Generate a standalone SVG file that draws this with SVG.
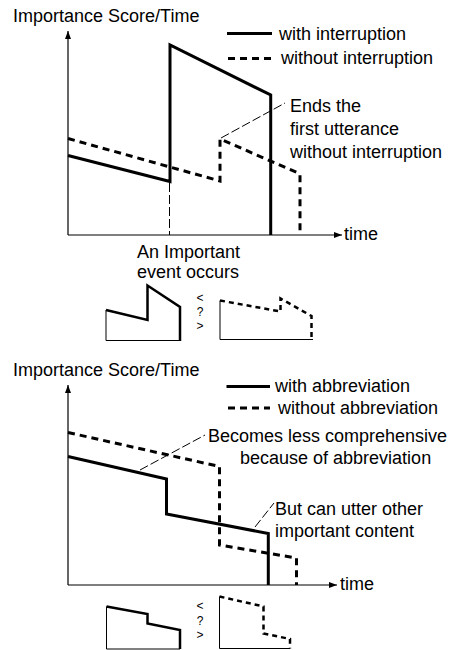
<svg xmlns="http://www.w3.org/2000/svg" width="458" height="650" viewBox="0 0 458 650">
<style>
text{font-family:"Liberation Sans",Arial,sans-serif;font-size:18px;fill:#000}
.sym{font-size:12px;text-anchor:middle}
.axis{stroke:#000;stroke-width:1.2;fill:none}
.solid{stroke:#000;stroke-width:3;fill:none;stroke-linejoin:miter}
.dash{stroke:#000;stroke-width:3;fill:none;stroke-dasharray:7 5}
.lead{stroke:#000;stroke-width:1;fill:none;stroke-dasharray:9 3}
.thin{stroke:#000;stroke-width:1;fill:none}
.isolid{stroke:#000;stroke-width:2.5;fill:none}
.idash{stroke:#000;stroke-width:2.5;fill:none;stroke-dasharray:5 4}
</style>
<defs>
<marker id="ah" viewBox="0 0 8 6" refX="8" refY="3" markerWidth="8" markerHeight="6" markerUnits="userSpaceOnUse" orient="auto">
<path d="M0,0 L8,3 L0,6 z" fill="#000"/>
</marker>
</defs>

<g id="chart1">
<text x="13" y="22">Importance Score/Time</text>
<line class="axis" x1="68" y1="235" x2="68" y2="31" marker-end="url(#ah)"/>
<line class="axis" x1="68" y1="235" x2="342" y2="235" marker-end="url(#ah)"/>
<text x="344" y="240">time</text>
<g id="legend1">
<line class="solid" x1="227" y1="33.5" x2="272" y2="33.5"/>
<text x="279" y="40">with interruption</text>
<line class="dash" x1="228" y1="58.5" x2="272" y2="58.5"/>
<text x="281" y="64">without interruption</text>
</g>
<g id="curves1">
<polyline class="solid" points="68,155.5 170,181.5 170,45 270.7,95 270.7,235"/>
<polyline class="dash" points="68,138.5 220,181 220,139 297,172.5 300,175 300,235"/>
<line class="lead" x1="169.5" y1="183" x2="169.5" y2="235"/>
</g>
<g id="note1">
<line class="lead" x1="221" y1="138" x2="285" y2="103"/>
<text x="290" y="112">Ends the</text>
<text x="290" y="135">first utterance</text>
<text x="290" y="157.5">without interruption</text>
</g>
<g id="event">
<text x="137" y="258">An Important</text>
<text x="137" y="278">event occurs</text>
</g>
<g id="icons1">
<polyline class="thin" points="106,310 106,340.5 180,340.5"/>
<polyline class="isolid" points="106,310 147.5,320 147.5,285.5 180,307 180,341"/>
<text class="sym" x="200" y="301.5">&lt;</text>
<text class="sym" x="200" y="315.5">?</text>
<text class="sym" x="200" y="329.5">&gt;</text>
<polyline class="thin" points="220,300.5 220,339.5 313,339.5"/>
<polyline class="idash" points="220,300.5 280.5,311.5 280.5,298.5 311.5,316 311.5,339.5"/>
</g>
</g>

<g id="chart2">
<text x="13" y="376">Importance Score/Time</text>
<line class="axis" x1="68" y1="585" x2="68" y2="385" marker-end="url(#ah)"/>
<line class="axis" x1="68" y1="585" x2="337" y2="585" marker-end="url(#ah)"/>
<text x="340" y="590">time</text>
<g id="legend2">
<line class="solid" x1="226.5" y1="386.5" x2="270" y2="386.5"/>
<text x="275" y="392">with abbreviation</text>
<line class="dash" x1="228" y1="408" x2="270" y2="408"/>
<text x="278" y="413.5">without abbreviation</text>
</g>
<g id="curves2">
<polyline class="dash" points="68,432.5 219.5,466.5 219.5,545 296.5,558 296.5,585"/>
<polyline class="solid" points="68,456.5 166.5,479 166.5,514 268.3,533.5 268.3,585"/>
</g>
<g id="note2">
<line class="lead" x1="140" y1="470" x2="205" y2="435"/>
<text x="208" y="442">Becomes less comprehensive</text>
<text x="240" y="463.5">because of abbreviation</text>
<line class="lead" x1="255" y1="527" x2="274" y2="503"/>
<text x="275" y="514.5">But can utter other</text>
<text x="275" y="537">important content</text>
</g>
<g id="icons2">
<polyline class="thin" points="106.5,606.5 106.5,649 180,649"/>
<polyline class="isolid" points="106.5,606.5 147.5,614 147.5,623.5 180,630 180,649"/>
<text class="sym" x="200" y="609.5">&lt;</text>
<text class="sym" x="200" y="625">?</text>
<text class="sym" x="200" y="638.5">&gt;</text>
<polyline class="thin" points="219.5,596.5 219.5,648.5 290,648.5"/>
<polyline class="idash" points="219.5,596.5 263.5,606.5 263.5,633.5 290,639 290,648.5"/>
</g>
</g>
</svg>
